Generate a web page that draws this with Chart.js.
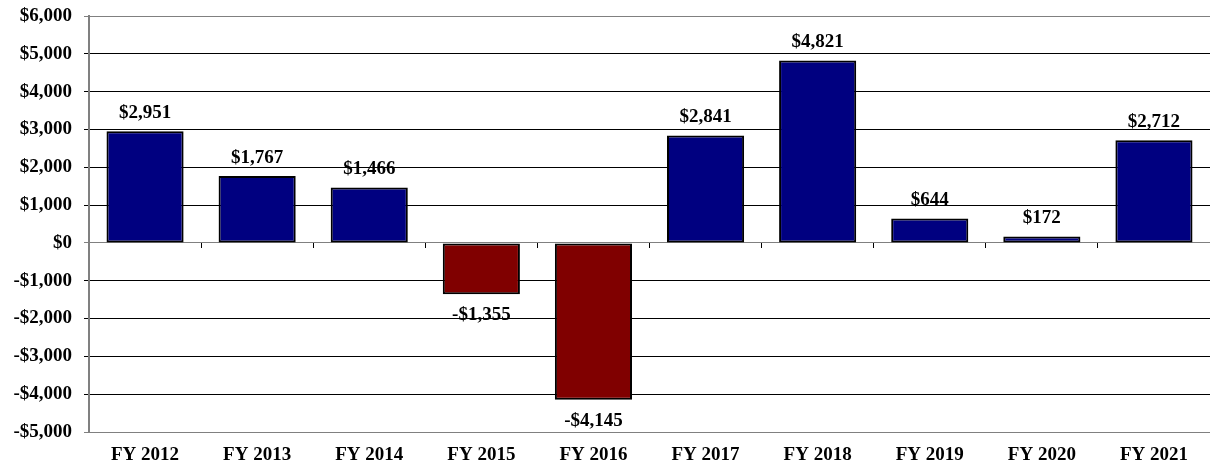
<!DOCTYPE html>
<html>
<head>
<meta charset="utf-8">
<script src="https://cdn.jsdelivr.net/npm/chart.js@4/dist/chart.umd.min.js"></script>
<style>
  html, body { margin: 0; padding: 0; background: #fff; }
  #wrap { width: 1210px; height: 463px; }
</style>
</head>
<body>
<div id="wrap"><canvas id="c"></canvas></div>
<script>
const years = ['FY 2012', 'FY 2013', 'FY 2014', 'FY 2015', 'FY 2016', 'FY 2017', 'FY 2018', 'FY 2019', 'FY 2020', 'FY 2021']
const balance = [2951, 1767, 1466, -1355, -4145, 2841, 4821, 644, 172, 2712]
const yMin = -5000
const yMax = 6000

const font = { family: '"Liberation Serif", "Times New Roman", serif', size: 19, weight: 'bold' }

const money = (v) => (v < 0 ? '-$' : '$') + Math.abs(v).toLocaleString('en-US')

// value labels above positive bars, below negative ones
const barLabels = {
  id: 'barLabels',
  afterDatasetsDraw(chart) {
    const ctx = chart.ctx
    const meta = chart.getDatasetMeta(0)
    ctx.save()
    ctx.font = `bold ${font.size}px ${font.family}`
    ctx.fillStyle = '#000'
    ctx.textAlign = 'center'
    ctx.textBaseline = 'middle'
    meta.data.forEach((bar, i) => {
      const v = balance[i]
      const y = v >= 0 ? bar.y - 18 : bar.y + 21
      ctx.fillText(money(v), bar.x, y)
    })
    ctx.restore()
  },
}

new Chart(document.getElementById('c'), {
  type: 'bar',
  data: {
    labels: years,
    datasets: [
      {
        data: balance,
        backgroundColor: balance.map((v) => (v < 0 ? '#800000' : '#000080')),
        borderColor: '#000',
        borderWidth: 2,
        borderSkipped: false,
        categoryPercentage: 0.8,
        barPercentage: 0.86,
      },
    ],
  },
  options: {
    responsive: true,
    maintainAspectRatio: false,
    animation: false,
    layout: { padding: { top: 16, right: 0, left: 0, bottom: 0 } },
    plugins: { legend: { display: false }, tooltip: { enabled: false } },
    scales: {
      x: {
        grid: { display: false, drawTicks: false },
        border: { display: false },
        ticks: { color: '#000', font: font, padding: 12, maxRotation: 0 },
        afterFit: (s) => { s.height = 31 },
      },
      x2: {
        type: 'category',
        position: { y: 0 },
        offset: true,
        grid: { offset: true, drawOnChartArea: false, drawTicks: true, tickLength: 5, color: '#000', lineWidth: 1 },
        border: { display: true, color: '#808080', width: 1 },
        ticks: { display: false },
        afterFit: (s) => { s.height = 0 },
      },
      y: {
        min: yMin,
        max: yMax,
        ticks: { stepSize: 1000, color: '#000', font: font, padding: 12, callback: (v) => money(v) },
        grid: {
          color: (c) => (c.tick && (c.tick.value === yMax || c.tick.value === yMin || c.tick.value === 0) ? '#808080' : '#000'),
          lineWidth: 1,
          tickLength: 5,
        },
        border: { color: '#808080', width: 2 },
        afterFit: (s) => {
          s.width = 89
          s.paddingTop = 0
          s.paddingBottom = 0
        },
      },
    },
  },
  plugins: [barLabels],
})
</script>
</body>
</html>
